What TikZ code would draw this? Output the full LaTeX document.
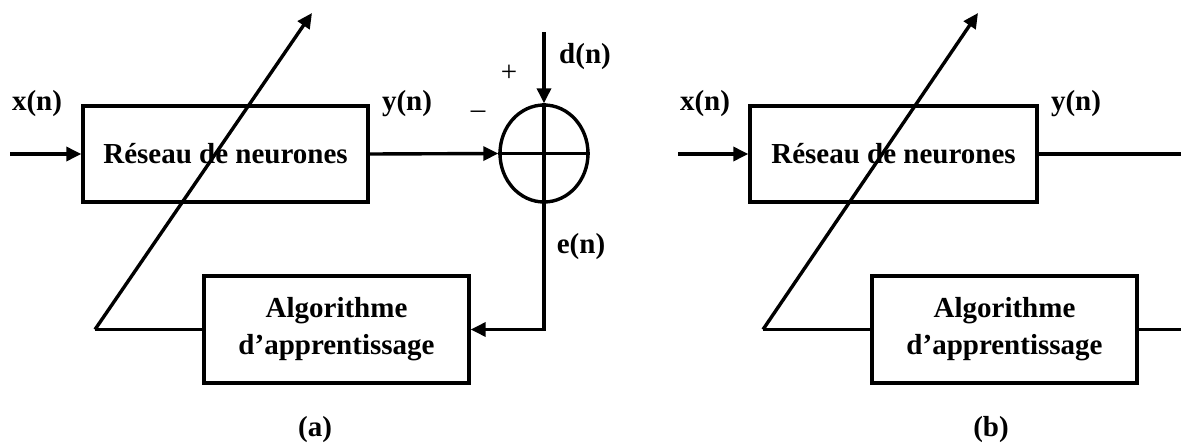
\documentclass[tikz,border=0pt]{standalone}
\usepackage{fontspec}
\setmainfont{Liberation Serif}
\usetikzlibrary{arrows.meta,shapes.geometric}
\tikzset{
  lw/.style={line width=3.4pt},
  arr/.style={lw,-{Triangle[length=15pt,width=14pt]}},
  lbl/.style={font=\fontsize{29}{37}\selectfont\bfseries,inner sep=0pt},
  sgn/.style={font=\fontsize{29}{37}\selectfont,inner sep=0pt},
  nbox/.style={draw,lw,rectangle,inner sep=0pt,align=center,font=\fontsize{29}{37}\selectfont\bfseries},
  sumnode/.style={draw,lw,ellipse,inner sep=0pt,minimum width=88pt,minimum height=97pt}
}
\begin{document}
\begin{tikzpicture}[x=1pt,y=-1pt]
\useasboundingbox (0,0) rectangle (1181,447);
% ---------- (a) ----------
\node[nbox,minimum width=285pt,minimum height=96pt] (nna) at (225.5,154) {Réseau de neurones};
\node[nbox,minimum width=265pt,minimum height=107pt] (alga) at (336.5,329.5) {Algorithme\\d’apprentissage};
\node[sumnode] (s) at (544,153.5) {};
\draw[lw] (s.west) -- (s.east);
\draw[lw] (s.north) -- (s.south);
\coordinate (xina) at (10,154);
\coordinate (din) at (544,32);
\coordinate (dsa) at (95,329.5);
\coordinate (dea) at (312,13);
\draw[arr] (xina) -- (nna.west);
\draw[arr] (nna.east) -- (s.west);
\draw[arr] (din) -- (s.north);
\draw[arr] (s.south) |- (alga.east);
\draw[lw] (alga.west) -- (dsa);
\draw[arr] (dsa) -- (dea);
\node[lbl] (xa) at (37,104) {x(n)};
\node[lbl] (ya) at (407,104) {y(n)};
\node[lbl] (d) at (585,57) {d(n)};
\node[lbl] (e) at (581,247) {e(n)};
\node[sgn] (plus) at (509,73) {+};
\node[sgn] (minus) at (478,115) {–};
\node[lbl] (capa) at (315,430) {(a)};
% ---------- (b) ----------
\node[nbox,minimum width=287pt,minimum height=96pt] (nnb) at (893.5,154) {Réseau de neurones};
\node[nbox,minimum width=265pt,minimum height=107pt] (algb) at (1004.5,329.5) {Algorithme\\d’apprentissage};
\coordinate (xinb) at (678,154);
\coordinate (youtb) at (1181,154);
\coordinate (aoutb) at (1181,329.5);
\coordinate (dsb) at (763,329.5);
\coordinate (deb) at (978,13);
\draw[arr] (xinb) -- (nnb.west);
\draw[lw] (nnb.east) -- (youtb);
\draw[lw] (algb.east) -- (aoutb);
\draw[lw] (algb.west) -- (dsb);
\draw[arr] (dsb) -- (deb);
\node[lbl] (xb) at (705,104) {x(n)};
\node[lbl] (yb) at (1076,104) {y(n)};
\node[lbl] (capb) at (991,430) {(b)};
\end{tikzpicture}
\end{document}
